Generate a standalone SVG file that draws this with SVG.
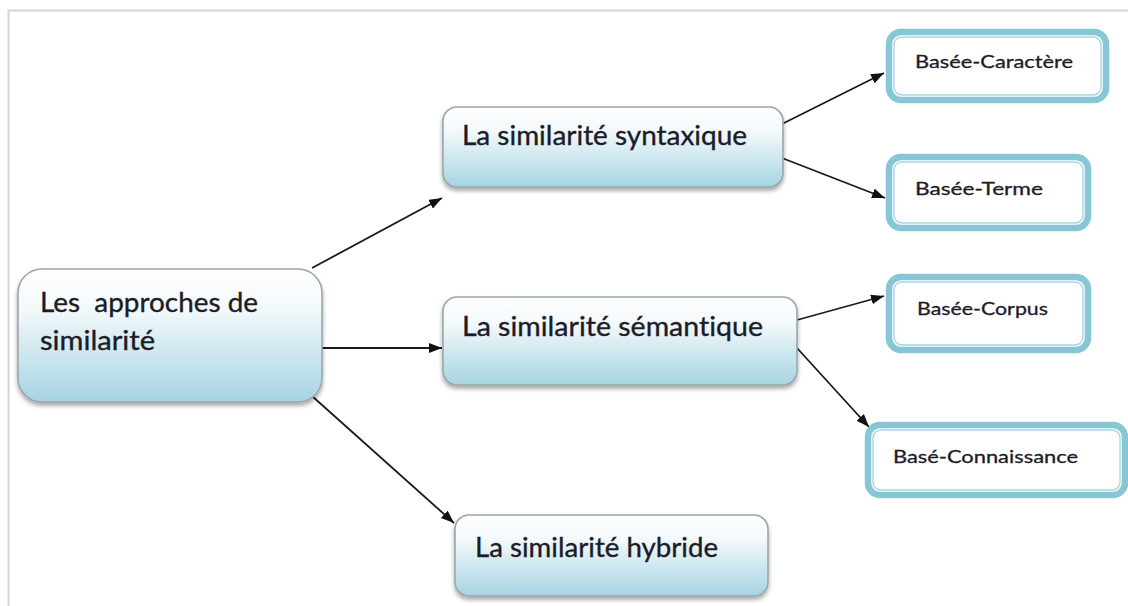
<svg xmlns="http://www.w3.org/2000/svg" width="1128" height="606" viewBox="0 0 1128 606">
  <defs>
    <linearGradient id="boxFill" x1="0" y1="0" x2="0" y2="1">
      <stop offset="0" stop-color="#ffffff"/>
      <stop offset="0.3" stop-color="#f3f9fb"/>
      <stop offset="1" stop-color="#a6d4e2"/>
    </linearGradient>
    <filter id="shadow" x="-10%" y="-10%" width="120%" height="130%">
      <feDropShadow dx="0" dy="3" stdDeviation="2" flood-color="#000" flood-opacity="0.35"/>
    </filter>
    <marker id="arrow" viewBox="0 0 13 10" refX="13" refY="5" markerWidth="13" markerHeight="10" markerUnits="userSpaceOnUse" orient="auto">
      <path d="M0,0 L13,5 L0,10 z" fill="#111"/>
    </marker>
    <style>
      .frame { fill: none; stroke: #d4d4d4; stroke-width: 2; }
      .main { fill: url(#boxFill); stroke: #9ba6ab; stroke-width: 1.6; filter: url(#shadow); }
      .leafOuter { fill: #ffffff; stroke: #86c6d5; stroke-width: 6.5; }
      .leafInner { fill: none; stroke: #a6d6e2; stroke-width: 1.4; }
      .label { font-family: Lato, "Liberation Sans", sans-serif; font-size: 27px; fill: #1c1c28; stroke: #1c1c28; stroke-width: 0.35; font-variant-ligatures: none; }
      .small { font-family: Lato, "Liberation Sans", sans-serif; font-size: 18px; fill: #1c1c28; stroke: #1c1c28; stroke-width: 0.3; font-variant-ligatures: none; }
      .conn line { stroke: #1a1a1a; stroke-width: 1.8; marker-end: url(#arrow); }
    </style>
  </defs>

  <rect width="1128" height="606" fill="#ffffff"/>
  <!-- page frame -->
  <path class="frame" d="M8.5,606 L8.5,10.5 L1128,10.5"/>

  <!-- connectors -->
  <g id="connectors" class="conn">
    <line x1="312" y1="268" x2="442" y2="198"/>
    <line x1="322" y1="348" x2="442" y2="348"/>
    <line x1="312" y1="396" x2="454" y2="523"/>
    <line x1="782" y1="124" x2="884" y2="73"/>
    <line x1="782" y1="158" x2="885" y2="198"/>
    <line x1="797" y1="320" x2="884" y2="296"/>
    <line x1="797" y1="348" x2="869" y2="427"/>
  </g>

  <g id="root">
    <rect class="main" x="18" y="269" width="304" height="133" rx="24"/>
    <text class="label" x="40" y="312" xml:space="preserve" textLength="218" lengthAdjust="spacingAndGlyphs">Les  approches de</text>
    <text class="label" x="40" y="350" textLength="115" lengthAdjust="spacingAndGlyphs">similarité</text>
  </g>

  <g id="syntaxique">
    <rect class="main" x="443" y="107" width="340" height="80" rx="14"/>
    <text class="label" x="462" y="145" textLength="285" lengthAdjust="spacingAndGlyphs">La similarité syntaxique</text>
  </g>

  <g id="semantique">
    <rect class="main" x="443" y="297" width="354" height="88" rx="14"/>
    <text class="label" x="462" y="336" textLength="301" lengthAdjust="spacingAndGlyphs">La similarité sémantique</text>
  </g>

  <g id="hybride">
    <rect class="main" x="455" y="515" width="313" height="81" rx="14"/>
    <text class="label" x="475" y="557" textLength="243" lengthAdjust="spacingAndGlyphs">La similarité hybride</text>
  </g>

  <g id="caractere">
    <rect class="leafOuter" x="889" y="32" width="217" height="68" rx="12"/>
    <rect class="leafInner" x="894" y="37" width="207" height="58" rx="8"/>
    <text class="small" x="915" y="68" textLength="158" lengthAdjust="spacingAndGlyphs">Basée-Caractère</text>
  </g>

  <g id="terme">
    <rect class="leafOuter" x="889" y="157" width="199" height="71" rx="12"/>
    <rect class="leafInner" x="894" y="162" width="189" height="61" rx="8"/>
    <text class="small" x="915" y="195" textLength="128" lengthAdjust="spacingAndGlyphs">Basée-Terme</text>
  </g>

  <g id="corpus">
    <rect class="leafOuter" x="889" y="277" width="199" height="73" rx="12"/>
    <rect class="leafInner" x="894" y="282" width="189" height="63" rx="8"/>
    <text class="small" x="917" y="315" textLength="131" lengthAdjust="spacingAndGlyphs">Basée-Corpus</text>
  </g>

  <g id="connaissance">
    <rect class="leafOuter" x="868" y="425" width="257" height="70" rx="12"/>
    <rect class="leafInner" x="873" y="430" width="247" height="60" rx="8"/>
    <text class="small" x="893" y="463" textLength="185" lengthAdjust="spacingAndGlyphs">Basé-Connaissance</text>
  </g>
</svg>
